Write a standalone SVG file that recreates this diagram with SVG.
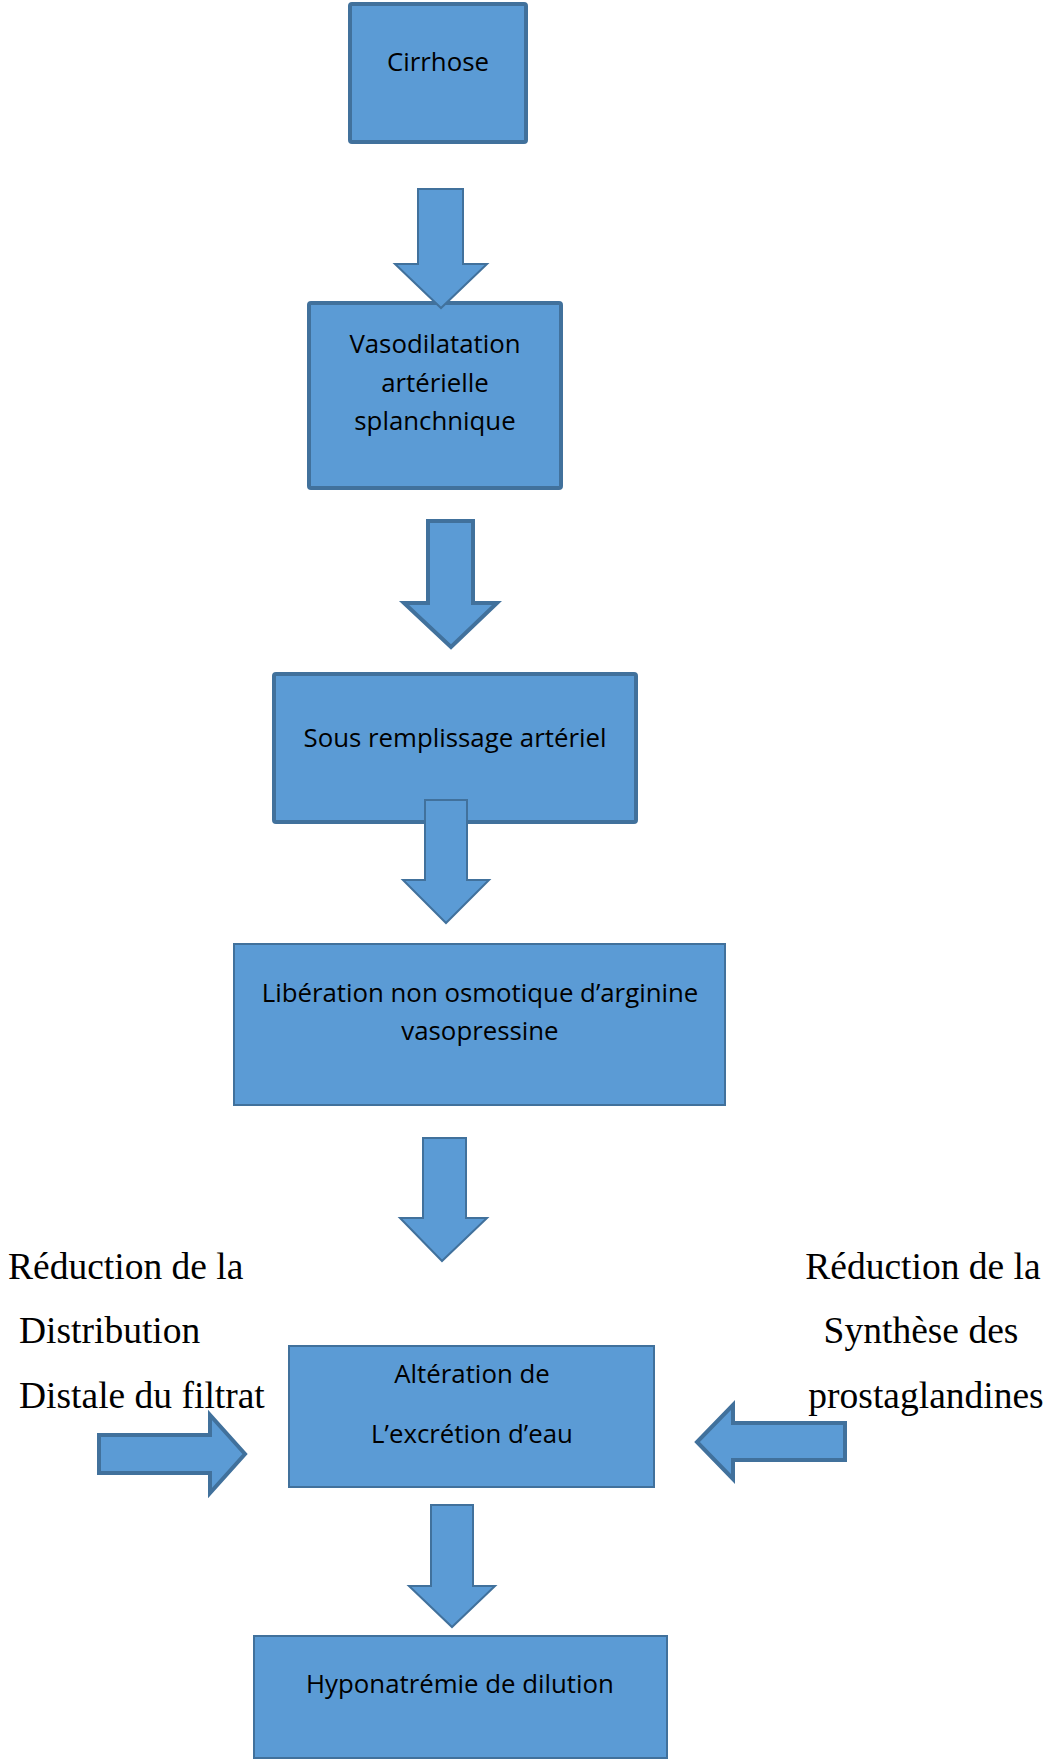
<svg xmlns="http://www.w3.org/2000/svg" width="1046" height="1762" viewBox="0 0 1046 1762">
<style>
.box{fill:#5B9BD5;stroke:#41719C}
.thick{stroke-width:4}
.thin{stroke-width:2}
.arr{fill:#5B9BD5;stroke:#41719C;stroke-linejoin:miter}
.t{font-family:"Open Sans","Liberation Sans",sans-serif;font-size:25.8px;fill:#000;text-anchor:middle}
.s{font-family:"Liberation Serif","Times New Roman",serif;font-size:37.5px;fill:#000}
</style>
<rect width="1046" height="1762" fill="#fff"/>
<g id="n1"><rect class="box thick" x="350" y="4" width="176" height="138" rx="2"/><text class="t" x="438" y="71">Cirrhose</text></g>
<g id="n2"><rect class="box thick" x="309" y="303" width="252" height="185" rx="2"/><text class="t" x="435" y="353">Vasodilatation</text><text class="t" x="435" y="392">artérielle</text><text class="t" x="435" y="430">splanchnique</text></g>
<g id="n3"><rect class="box thick" x="274" y="674" width="362" height="148" rx="2"/><text class="t" x="455" y="747">Sous remplissage artériel</text></g>
<g id="n4"><rect class="box thin" x="234" y="944" width="491" height="161"/><text class="t" x="480" y="1002">Libération non osmotique d’arginine</text><text class="t" x="480" y="1040">vasopressine</text></g>
<g id="n5"><rect class="box thin" x="289" y="1346" width="365" height="141"/><text class="t" x="472" y="1383">Altération de</text><text class="t" x="472" y="1443">L’excrétion d’eau</text></g>
<g id="n6"><rect class="box thin" x="254" y="1636" width="413" height="122"/><text class="t" x="460" y="1693">Hyponatrémie de dilution</text></g>
<g id="lbl-left"><text class="s" x="8" y="1279">Réduction de la</text><text class="s" x="19" y="1343">Distribution</text><text class="s" x="19" y="1408">Distale du filtrat</text></g>
<g id="lbl-right"><text class="s" x="923" y="1279" text-anchor="middle">Réduction de la</text><text class="s" x="921" y="1343" text-anchor="middle">Synthèse des</text><text class="s" x="926" y="1408" text-anchor="middle">prostaglandines</text></g>
<g id="connectors">
<polygon class="arr" stroke-width="2" points="418,189 463,189 463,264 487,264 441,308 395,264 418,264"/>
<polygon class="arr" stroke-width="4" points="428,521 473,521 473,603 497,603 451,647 404,603 428,603"/>
<polygon class="arr" stroke-width="2" points="425,800 467,800 467,880 489,880 446,923 403,880 425,880"/>
<polygon class="arr" stroke-width="2" points="423,1138 466,1138 466,1218 487,1218 442,1261 400,1218 423,1218"/>
<polygon class="arr" stroke-width="2" points="431,1505 473,1505 473,1586 495,1586 452,1627 409,1586 431,1586"/>
<polygon class="arr" stroke-width="4" points="99,1435 210,1435 210,1415 245,1454 210,1493 210,1473 99,1473"/>
<polygon class="arr" stroke-width="4" points="845,1423 733,1423 733,1405 697,1442 733,1479 733,1460 845,1460"/>
</g>
</svg>
